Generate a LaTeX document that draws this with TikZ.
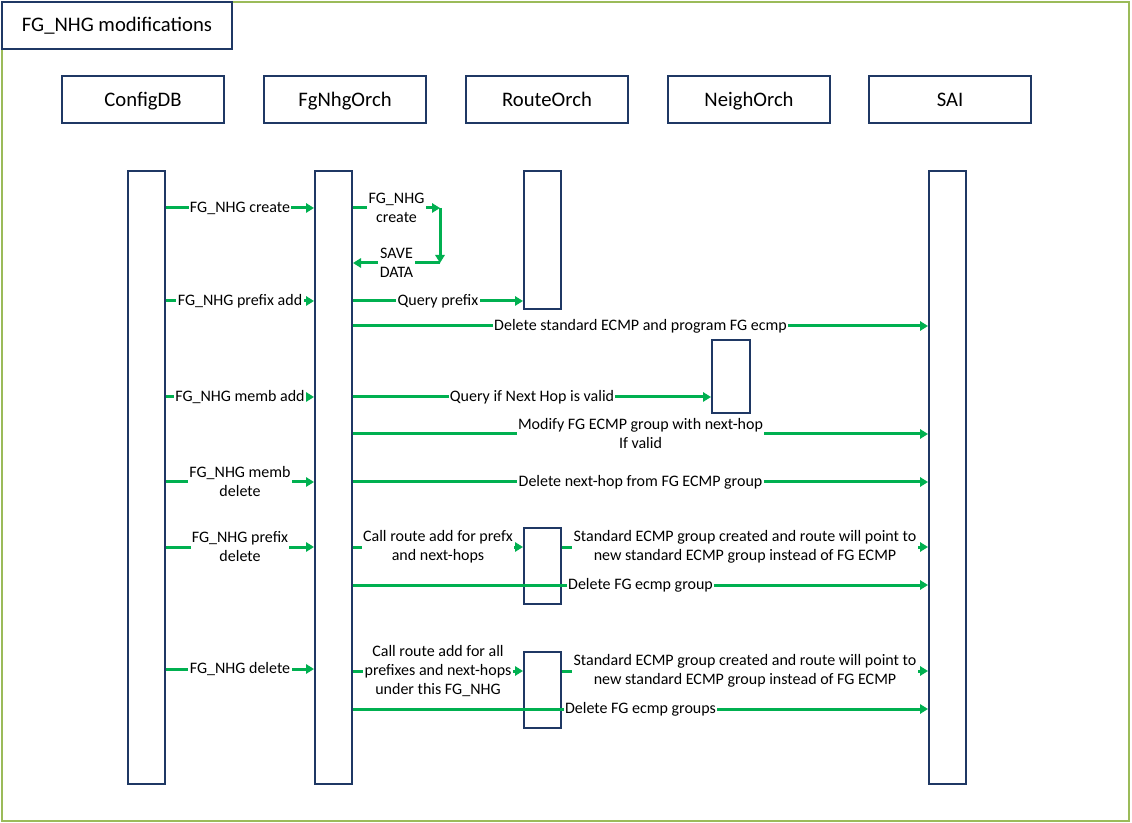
\documentclass[tikz,border=0pt]{standalone}
\usepackage{fontspec}
\setmainfont{Carlito}
\usetikzlibrary{arrows.meta}
\definecolor{navy}{RGB}{31,56,100}
\definecolor{arrowgreen}{RGB}{0,176,80}
\definecolor{framegreen}{RGB}{155,187,89}
\tikzset{
  head/.style={draw=navy, line width=1.5pt, fill=white, minimum width=121.5pt, minimum height=35.25pt, inner sep=0pt, text height=12.5pt, text depth=1.5pt, font=\fontsize{15.5}{18}\selectfont},
  life/.style={draw=navy, line width=1.5pt, fill=white, minimum width=27.75pt, inner sep=0pt},
  msg/.style={draw=arrowgreen, line width=2.25pt, -{Triangle[length=6pt,width=7pt]}},
  lbl/.style={fill=white, inner sep=1pt, align=center, font=\fontsize{12}{14.25}\selectfont, text=black}
}
\begin{document}
\begin{tikzpicture}[x=0.75pt,y=-0.75pt]
\useasboundingbox (0,0) rectangle (1132,823);
\draw[framegreen, line width=1.5pt] (2,2) rectangle (1129,821);
\node[draw=navy, line width=1.5pt, fill=white, minimum width=172.5pt, minimum height=35.25pt, font=\fontsize{15.5}{18}\selectfont] (title) at (117,25.5) {FG\_NHG modifications};

% participants
\node[head] (hcfg) at (143,99.5) {ConfigDB};
\node[head] (hfgn) at (345,99.5) {FgNhgOrch};
\node[head] (hrt) at (547,99.5) {RouteOrch};
\node[head] (hnb) at (749,99.5) {NeighOrch};
\node[head] (hsai) at (950,99.5) {SAI};

% lifelines
\node[life, minimum height=459.75pt] (cfg) at (146.5,477.5) {};
\node[life, minimum height=459.75pt] (fgn) at (333.5,477.5) {};
\node[life, minimum height=459.75pt] (sai) at (947.5,477.5) {};
\node[life, minimum height=103.5pt] (rt1) at (542.5,240) {};
\node[life, minimum height=54.75pt, minimum width=28.5pt] (nb) at (731,376.5) {};
\node[life, minimum height=57pt] (rt2) at (542.5,566) {};
\node[life, minimum height=57pt] (rt3) at (542.5,690) {};

% create
\coordinate (sc1) at (440,208);
\coordinate (sc2) at (440,263);
\draw[msg] (cfg.east |- 0,208) -- node[lbl]{FG\_NHG create} (fgn.west |- 0,208);
\draw[msg] (fgn.east |- 0,208) -- node[lbl, pos=0.5]{FG\_NHG\\create} (sc1);
\draw[msg] (sc1) -- (sc2);
\draw[msg] (sc2) -- node[lbl, pos=0.5]{SAVE\\DATA} (fgn.east |- 0,263);

% prefix add
\draw[msg] (cfg.east |- 0,301) -- node[lbl]{FG\_NHG prefix add} (fgn.west |- 0,301);
\draw[msg] (fgn.east |- 0,301) -- node[lbl]{Query prefix} (rt1.west |- 0,301);
\draw[msg] (fgn.east |- 0,326) -- node[lbl]{Delete standard ECMP and program FG ecmp} (sai.west |- 0,326);

% memb add
\draw[msg] (cfg.east |- 0,397) -- node[lbl]{FG\_NHG memb add} (fgn.west |- 0,397);
\draw[msg] (fgn.east |- 0,397) -- node[lbl]{Query if Next Hop is valid} (nb.west |- 0,397);
\draw[msg] (fgn.east |- 0,434) -- node[lbl]{Modify FG ECMP group with next-hop\\If valid} (sai.west |- 0,434);

% memb delete
\draw[msg] (cfg.east |- 0,482) -- node[lbl]{FG\_NHG memb\\delete} (fgn.west |- 0,482);
\draw[msg] (fgn.east |- 0,482) -- node[lbl]{Delete next-hop from FG ECMP group} (sai.west |- 0,482);

% prefix delete
\draw[msg] (cfg.east |- 0,547) -- node[lbl]{FG\_NHG prefix\\delete} (fgn.west |- 0,547);
\draw[msg] (fgn.east |- 0,547) -- node[lbl]{Call route add for prefx\\and next-hops} (rt2.west |- 0,547);
\draw[msg] (rt2.east |- 0,547) -- node[lbl]{Standard ECMP group created and route will point to\\new standard ECMP group instead of FG ECMP} (sai.west |- 0,547);
\draw[msg] (fgn.east |- 0,585) -- node[lbl]{Delete FG ecmp group} (sai.west |- 0,585);

% delete
\draw[msg] (cfg.east |- 0,669) -- node[lbl]{FG\_NHG delete} (fgn.west |- 0,669);
\draw[msg] (fgn.east |- 0,671) -- node[lbl]{Call route add for all\\prefixes and next-hops\\under this FG\_NHG} (rt3.west |- 0,671);
\draw[msg] (rt3.east |- 0,671) -- node[lbl]{Standard ECMP group created and route will point to\\new standard ECMP group instead of FG ECMP} (sai.west |- 0,671);
\draw[msg] (fgn.east |- 0,709) -- node[lbl]{Delete FG ecmp groups} (sai.west |- 0,709);
\end{tikzpicture}
\end{document}
